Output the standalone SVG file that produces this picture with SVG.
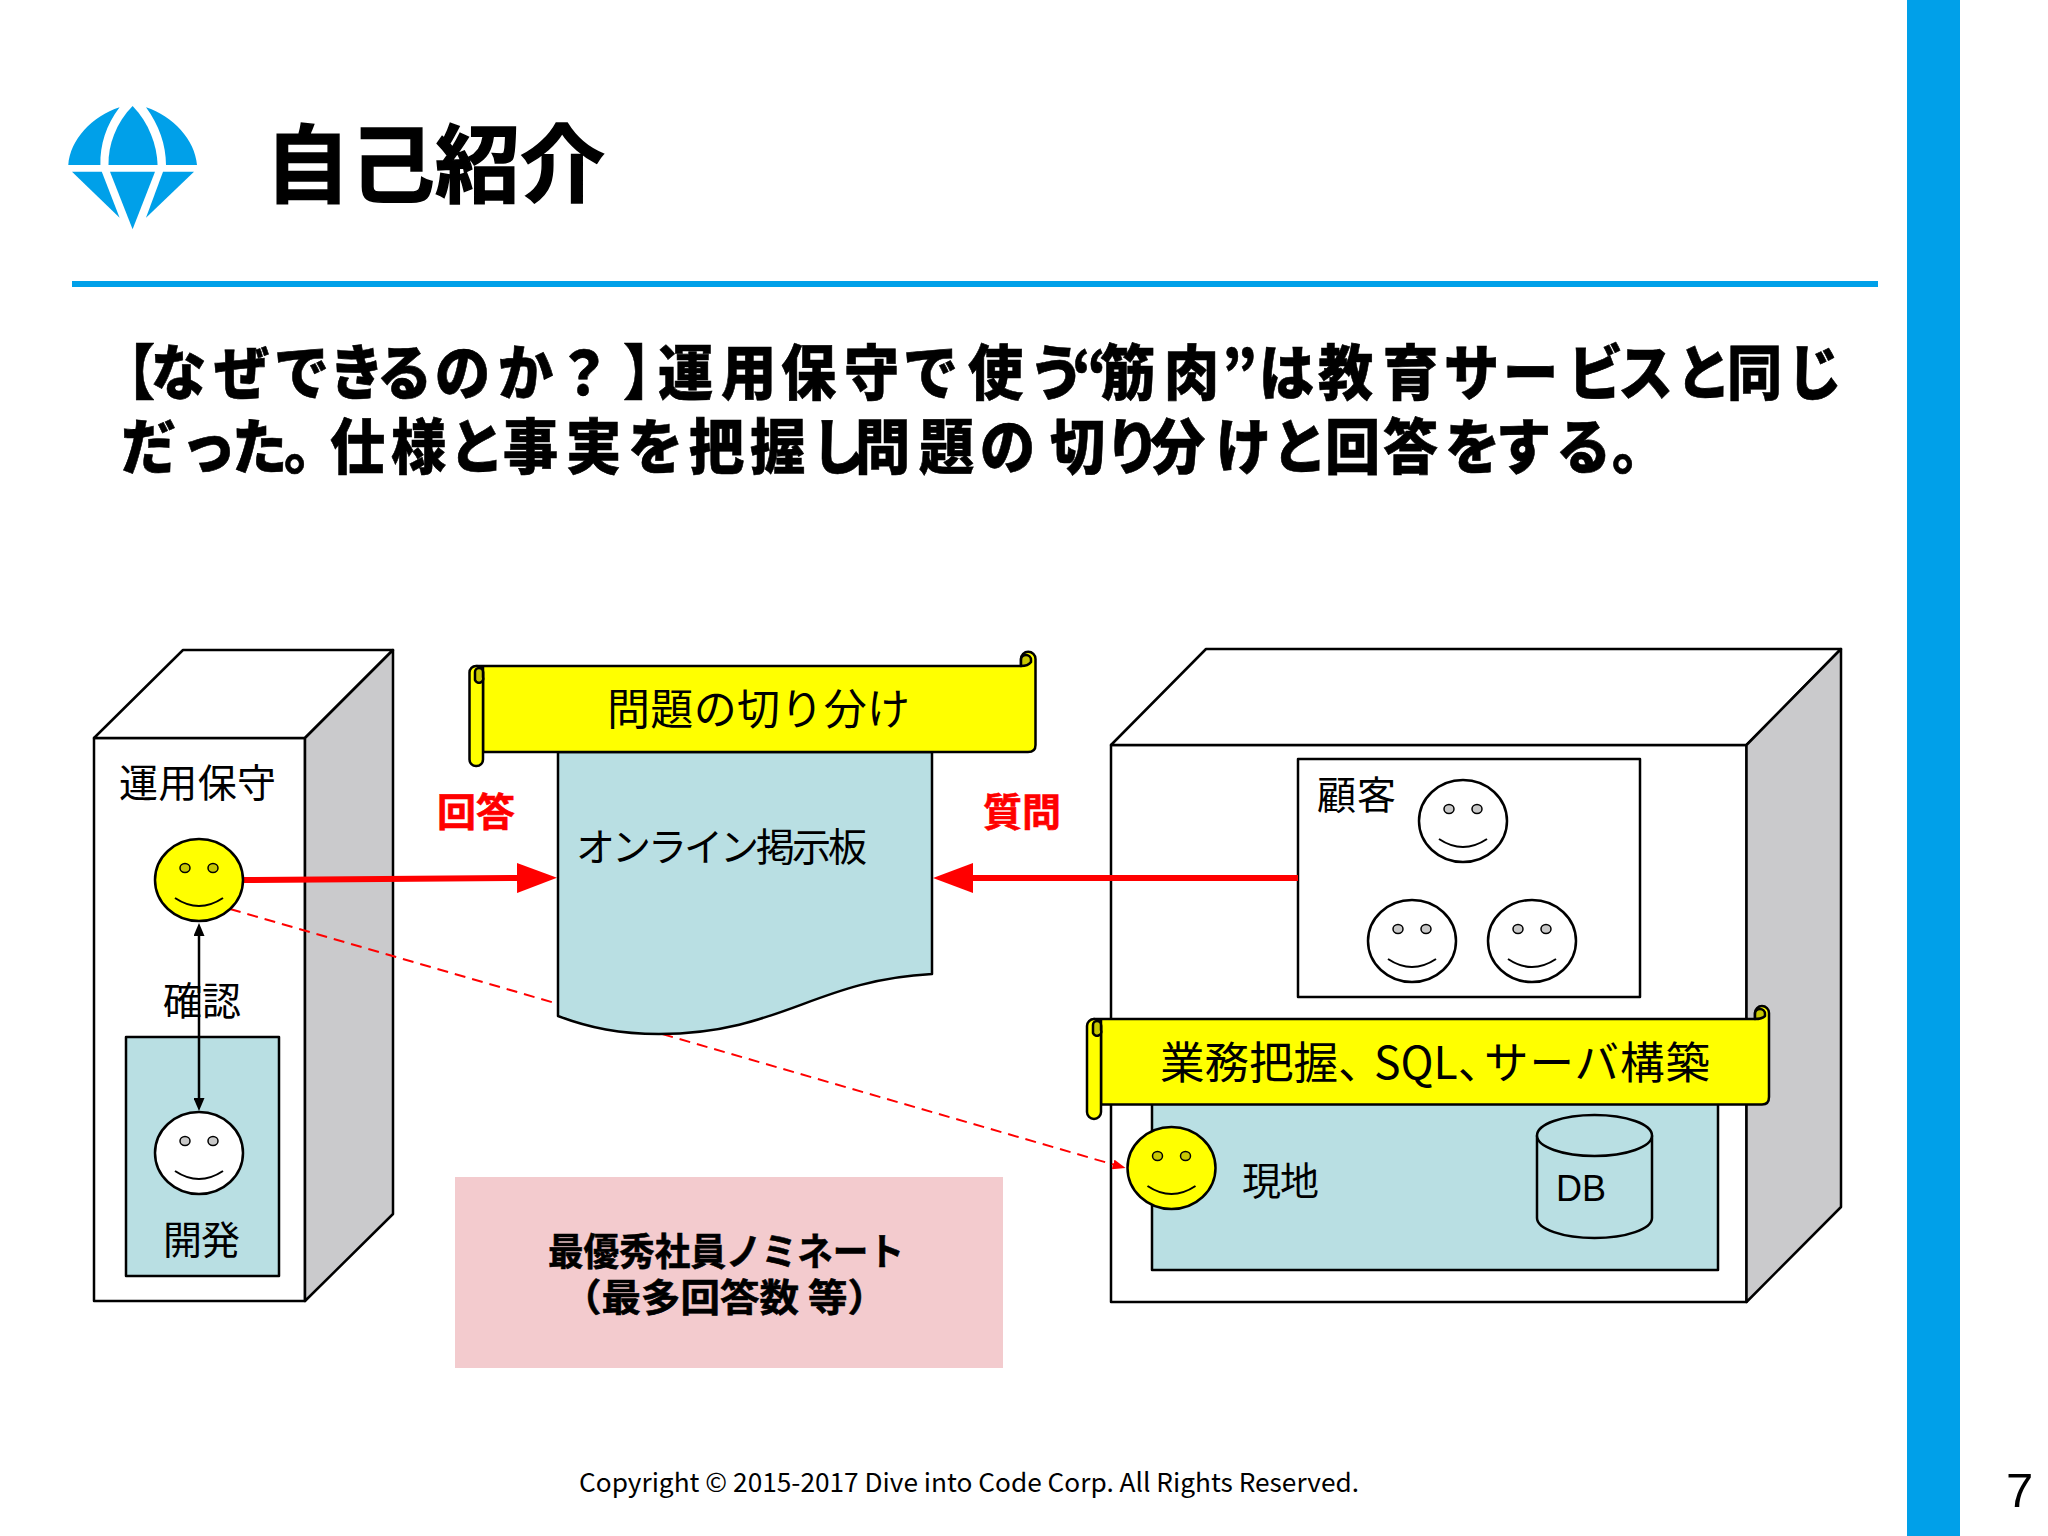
<svg xmlns="http://www.w3.org/2000/svg" width="2048" height="1536" viewBox="0 0 2048 1536">
<style>
text{font-family:"Noto Sans CJK JP","Noto Sans",sans-serif;fill:#000}
.b{font-weight:700}
.l{font-size:39px}
.s{stroke:#000;stroke-width:2.5;stroke-linejoin:round}
.white{fill:#fff}.gray{fill:#cacacc}.teal{fill:#b9dfe3}.yel{fill:#ff0}.curl{fill:#c8c800}
.head{fill:#00a0e9}
.hv{font-size:60px;font-weight:900;stroke:#000;stroke-width:.6}
</style>
<defs>
<g id="face">
<ellipse rx="44" ry="41" stroke="#000" stroke-width="2.5"/>
<ellipse cx="-14" cy="-12" rx="5" ry="4.5" fill="currentColor" stroke="#000" stroke-width="1.5"/>
<ellipse cx="14" cy="-12" rx="5" ry="4.5" fill="currentColor" stroke="#000" stroke-width="1.5"/>
<path d="M-24 18Q0 34 24 18" fill="none" stroke="#000" stroke-width="2"/>
</g>
<marker id="big" markerUnits="userSpaceOnUse" markerWidth="42" markerHeight="30" viewBox="0 0 42 30" refX="3" refY="15" orient="auto"><path d="M0 0L40 15L0 30Z" fill="#f00"/></marker>
<marker id="small" markerUnits="userSpaceOnUse" markerWidth="14" markerHeight="10" viewBox="0 0 14 10" refX="2" refY="5" orient="auto"><path d="M0 0L13 5L0 10Z" fill="#f00"/></marker>
<marker id="blk" markerUnits="userSpaceOnUse" markerWidth="14" markerHeight="11" viewBox="0 0 14 11" refX="1" refY="5.5" orient="auto-start-reverse"><path d="M0 0L13 5.5L0 11Z" fill="#000"/></marker>
</defs>
<rect width="2048" height="1536" fill="#fff"/>

<g id="header">
<g id="logo" class="head">
<path d="M119.600 107.300C92 116 70 140 68.300 165H100.400C100 145 106 125 119.600 107.300Z"/>
<path d="M132.600 106C116 123 108 145 108.500 165H157.600C157 145 149 123 132.600 106Z"/>
<path d="M146 107.300C159 125 166 145 166 165H197C195 140 173 116 146 107.300Z"/>
<path d="M72 171.700H101.800L119.600 217.700Z"/>
<path d="M110 171.700H155L132.600 229.300Z"/>
<path d="M163 171.700H194L146 217.700Z"/>
</g>
<text x="265" y="196" font-size="85" class="b" stroke="#000" stroke-width="1.5">自己紹介</text>
<rect x="72" y="281" width="1806" height="6" class="head"/>
<rect x="1907" y="0" width="53" height="1536" class="head"/>
<text id="heading1" class="hv" transform="scale(.92 1)" y="395" x="108.700 164.100 232.600 297.800 357.600 409.800 472.800 541.300 604.300 677.200 715.200 783.700 848.900 917.400 981.500 1052.200 1118.500 1165.200 1195.700 1265.200 1328.300 1368.500 1432.600 1503.300 1569.600 1633.700 1704.300 1758.700 1821.700 1877.200 1942.400">【なぜできるのか？】運用保守で使う“筋肉”は教育サービスと同じ</text>
<text id="heading2" class="hv" transform="scale(.92 1)" y="469" x="131.500 196.700 252.200 308.700 358.700 425 488 546.700 615.200 682.600 748.900 815.200 881.500 929.300 998.900 1065.200 1141.300 1201.100 1250 1321.700 1382.600 1440.200 1503.300 1570.700 1626.100 1691.300 1752.200">だった。仕様と事実を把握し問題の切り分けと回答をする。</text>
</g>

<g id="ops">
<path class="s white" d="M94 738H305V1301H94Z"/>
<path class="s white" d="M94 738L183 650H393L305 738Z"/>
<path class="s gray" d="M305 738L393 650V1214L305 1301Z"/>
<text x="119" y="797" class="l" textLength="157">運用保守</text>
</g>
<g id="dev">
<rect x="126" y="1037" width="153" height="239" class="s teal"/>
<text x="163" y="1254" class="l" textLength="77">開発</text>
</g>
<g id="client-site">
<path class="s white" d="M1111 745H1746.500V1302H1111Z"/>
<path class="s white" d="M1111 745L1206 649H1841L1746.500 745Z"/>
<path class="s gray" d="M1746.500 745L1841 649V1207L1746.500 1302Z"/>
</g>
<g id="customers">
<rect x="1298" y="759" width="342" height="238" class="s white"/>
<text x="1317" y="809" class="l" textLength="79">顧客</text>
</g>
<g id="onsite">
<rect x="1152" y="1090" width="566" height="180" class="s teal"/>
<text x="1242" y="1195" class="l" textLength="77">現地</text>
</g>
<g id="db">
<path class="s teal" d="M1537 1135.500V1218C1537 1229 1563 1238 1594.500 1238S1652 1229 1652 1218V1135.500"/>
<ellipse cx="1594.500" cy="1135.500" rx="57.500" ry="20.500" class="s teal"/>
<text x="1556" y="1201" font-size="36" style="font-family:'Liberation Sans',sans-serif">DB</text>
</g>

<g id="connectors" fill="none">
<line x1="230" y1="909" x2="1115" y2="1165" stroke="#f00" stroke-width="2" stroke-dasharray="11 7" marker-end="url(#small)"/>
<line x1="199" y1="935" x2="199" y2="1099" stroke="#000" stroke-width="2.500" marker-start="url(#blk)" marker-end="url(#blk)"/>
<line x1="243" y1="880" x2="520" y2="878" stroke="#f00" stroke-width="6" marker-end="url(#big)"/>
<line x1="1298" y1="878" x2="970" y2="878" stroke="#f00" stroke-width="6" marker-end="url(#big)"/>
</g>
<g id="label-confirm"><text x="163" y="1015" class="l" textLength="78">確認</text></g>
<g id="label-answer"><text x="437" y="826" class="l b" style="fill:#f00;stroke:#f00;stroke-width:.6" textLength="78">回答</text></g>
<g id="label-question"><text x="983" y="826" class="l b" style="fill:#f00;stroke:#f00;stroke-width:.6" textLength="78">質問</text></g>

<g id="face-ops"><use href="#face" x="199" y="880" fill="#ff0" color="#c8c800"/></g>
<g id="face-dev"><use href="#face" x="199" y="1153" fill="#fff" color="#c8c8c8"/></g>
<g id="face-c1"><use href="#face" x="1463" y="821" fill="#fff" color="#c8c8c8"/></g>
<g id="face-c2"><use href="#face" x="1412" y="941" fill="#fff" color="#c8c8c8"/></g>
<g id="face-c3"><use href="#face" x="1532" y="941" fill="#fff" color="#c8c8c8"/></g>
<g id="face-site"><use href="#face" x="1171.500" y="1168" fill="#ff0" color="#c8c800"/></g>

<g id="board">
<path class="s teal" d="M558 752H932V974C815 980 780 1034 659 1034C620 1034 590 1028 558 1016Z"/>
<text x="576" y="861" class="l" textLength="291">オンライン掲示板</text>
</g>
<g id="banner-triage">
<path class="s yel" d="M477 666H1021V659A7 7 0 0 1 1035.500 659V745Q1035.500 752 1028 752H483V666Z"/>
<path class="s curl" d="M1021 666V660A5 5 0 0 1 1031 660V662Q1028 666 1021 666Z"/>
<rect x="469.500" y="666" width="13.500" height="100" rx="6.500" class="s yel"/>
<path class="s curl" d="M475 680A4 4 0 0 0 483 677V672A4 4 0 0 0 475 672Z"/>
<text x="607" y="725" font-size="43" textLength="303">問題の切り分け</text>
</g>
<g id="banner-skills">
<path class="s yel" d="M1094 1019H1755V1013A7 7 0 0 1 1769 1013V1097Q1769 1104.500 1762 1104.500H1101V1019Z"/>
<path class="s curl" d="M1755 1019V1014A5 5 0 0 1 1765 1014V1016Q1762 1019 1755 1019Z"/>
<rect x="1087" y="1019" width="14" height="100" rx="7" class="s yel"/>
<path class="s curl" d="M1093 1033A4 4 0 0 0 1101 1030V1025A4 4 0 0 0 1093 1025Z"/>
<text x="1160" y="1079" font-size="44.500">業務把握、<tspan x="1374">SQL、</tspan><tspan x="1484" letter-spacing="1">サーバ構築</tspan></text>
</g>
<g id="nominee">
<rect x="455" y="1177" width="548" height="191" fill="#f3cbce"/>
<text x="548" y="1265" font-size="38" class="b" textLength="356" lengthAdjust="spacingAndGlyphs" stroke="#000" stroke-width=".6">最優秀社員ノミネート</text>
<text x="562" y="1311" font-size="38" class="b" textLength="325" lengthAdjust="spacingAndGlyphs" stroke="#000" stroke-width=".6">（最多回答数 等）</text>
</g>
<g id="footer">
<text x="579" y="1492" font-size="26" textLength="780" lengthAdjust="spacingAndGlyphs">Copyright © 2015-2017 Dive into Code Corp. All Rights Reserved.</text>
<text x="2006" y="1507" font-size="49" style="font-family:'Liberation Sans',sans-serif">7</text>
</g>
</svg>
